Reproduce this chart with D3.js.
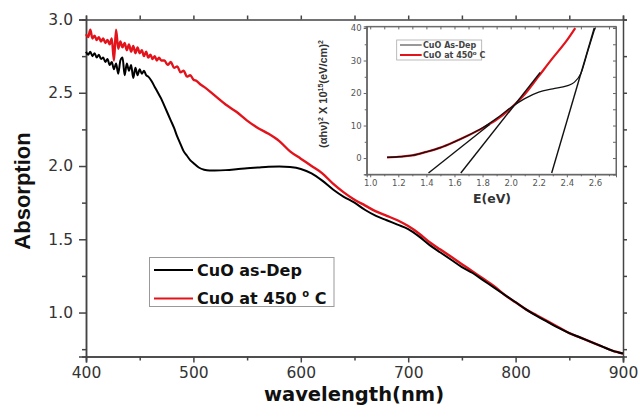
<!DOCTYPE html>
<html><head><meta charset="utf-8">
<script src="https://cdn.jsdelivr.net/npm/d3@7"></script>
<style>body{margin:0;background:#fff} svg{display:block}</style>
</head><body><svg id="c" width="642" height="406"></svg>
<script>
// ---------- main chart data ----------
const wlBlack = [400,402,404,406,408,410,412,414,416,418,420,422,424,426,428,430,432,434,436,438,440,442,444,446,448,450,452,454,456,458,
  461,464,467,470,473,476,479,482,485,488,491,494,497,500,505,510,515,520,530,540,550,560,570,580,590,600,610,620,630,640,650,660,670,680,690,700,
  710,720,730,740,750,760,770,780,790,800,810,820,830,840,850,860,870,880,890,900];
const absBlack = [2.78,2.76,2.78,2.75,2.77,2.74,2.76,2.73,2.74,2.71,2.73,2.69,2.71,2.66,2.70,2.63,2.72,2.74,2.62,2.70,2.65,2.69,2.60,2.67,2.62,2.66,2.63,2.65,2.62,2.61,
  2.58,2.54,2.50,2.46,2.41,2.36,2.31,2.26,2.20,2.15,2.10,2.07,2.04,2.02,1.99,1.975,1.97,1.97,1.972,1.978,1.985,1.99,1.995,1.997,1.993,1.98,1.95,1.90,1.84,1.79,1.75,1.70,1.66,1.63,1.60,1.57,
  1.52,1.46,1.41,1.36,1.31,1.27,1.22,1.17,1.12,1.07,1.02,0.975,0.935,0.895,0.86,0.83,0.80,0.77,0.74,0.72];
const wlRed = [400,402,404,406,408,410,412,414,416,418,420,422,424,426,428,430,432,434,436,438,440,442,444,446,448,450,452,454,456,458,460,462,464,466,468,470,
  473,476,479,482,485,488,491,494,497,500,503,506,510,520,530,540,550,560,570,580,590,600,610,620,630,640,650,660,670,680,690,700,
  710,720,730,740,750,760,770,780,790,800,810,820,830,840,850,860,870,880,890,900];
const absRed = [2.90,2.88,2.93,2.87,2.89,2.86,2.88,2.85,2.87,2.84,2.86,2.83,2.87,2.72,2.93,2.80,2.85,2.81,2.84,2.79,2.83,2.78,2.82,2.77,2.81,2.77,2.79,2.75,2.78,2.74,2.76,2.73,2.75,2.72,2.74,2.72,
  2.72,2.69,2.71,2.67,2.68,2.64,2.65,2.61,2.62,2.59,2.58,2.56,2.54,2.48,2.42,2.37,2.31,2.26,2.22,2.17,2.10,2.05,2.00,1.95,1.88,1.82,1.77,1.73,1.69,1.66,1.63,1.59,
  1.54,1.48,1.43,1.38,1.33,1.28,1.23,1.18,1.12,1.07,1.02,0.98,0.94,0.90,0.86,0.83,0.80,0.77,0.74,0.72];
const xTicks = [400,500,600,700,800,900];
const xMinor = [450,550,650,750,850];
const yTicks = [1.0,1.5,2.0,2.5,3.0];
const yMinor = [0.75,1.25,1.75,2.25,2.75];
const seriesNames = ["CuO as-Dep","CuO at 450 "];

// ---------- inset data ----------
const eRed = [1.12,1.2,1.3,1.4,1.5,1.6,1.7,1.8,1.9,2.0,2.1,2.2,2.3,2.4,2.46];
const tRed = [0.2,0.4,0.8,1.9,3.2,5.0,7.0,9.2,11.8,15.3,19.6,25.2,30.8,36.2,40];
const eBlack = [1.12,1.2,1.3,1.4,1.5,1.6,1.7,1.8,1.9,2.0,2.1,2.2,2.3,2.4,2.45,2.5,2.55,2.6];
const tBlack = [0.2,0.4,0.8,1.9,3.2,5.0,7.0,9.3,12.2,15.5,18.3,20.3,21.3,22.2,23.2,26.0,33.0,40.0];
const fitE = [[1.415,1.85],[1.645,2.21],[2.292,2.595]];
const fitT = [[-4.6,10.3],[-4.6,26.3],[-4.6,40]];
const ixTicks = [1.0,1.2,1.4,1.6,1.8,2.0,2.2,2.4,2.6];
const ixMinor = [1.1,1.3,1.5,1.7,1.9,2.1,2.3,2.5,2.7];
const iyTicks = [0,10,20,30,40];
const iyMinor = [-5,5,15,25,35];
const insetNames = ["CuO As-Dep","CuO at 450"];

const RED = "#e3131b", AX = "#444", TXT = "#333";
const svg = d3.select("#c");

const x = d3.scaleLinear([400,900],[86,623]);
const y = d3.scaleLinear([0.7,3.0],[356.5,19.5]);

function styleAxis(g, font, size, color, sw){
  g.select(".domain").attr("stroke",AX).attr("stroke-width",sw);
  g.selectAll(".tick line").attr("stroke",AX).attr("stroke-width",sw);
  g.selectAll(".tick text").attr("font-family",font).attr("font-size",size).attr("fill",color);
}
const F = "DejaVu Sans";
function addAxis(axis, tx, ty, font, size, color, sw){
  const g = svg.append("g").attr("transform",`translate(${tx},${ty})`).call(axis);
  styleAxis(g, font, size, color, sw);
  return g;
}
// main axes
addAxis(d3.axisBottom(x).tickValues(xMinor).tickSize(4).tickFormat(""),0,356.5,F,15.5,TXT,1.5);
addAxis(d3.axisBottom(x).tickValues(xTicks).tickSize(6).tickPadding(4.5).tickFormat(d3.format("d")),0,356.5,F,15.5,TXT,1.5);
addAxis(d3.axisLeft(y).tickValues(yMinor).tickSize(4).tickFormat(""),86,0,F,15.5,TXT,1.5);
addAxis(d3.axisLeft(y).tickValues(yTicks).tickSize(7).tickPadding(6).tickFormat(d3.format(".1f")),86,0,F,15.5,TXT,1.5);
addAxis(d3.axisTop(x).tickValues(xMinor.concat(xTicks)).tickSize(4).tickFormat(""),0,19.5,F,15.5,TXT,1.5);
addAxis(d3.axisRight(y).tickValues(yMinor.concat(yTicks)).tickSize(4).tickFormat(""),623,0,F,15.5,TXT,1.5);

// main curves
const lineMain = (xs, ys) => d3.line().x((d,i)=>x(xs[i])).y((d,i)=>y(ys[i])).curve(d3.curveMonotoneX)(xs);
svg.append("path").attr("d",lineMain(wlRed,absRed)).attr("fill","none").attr("stroke",RED).attr("stroke-width",2.4).attr("stroke-linejoin","round");
svg.append("path").attr("d",lineMain(wlBlack,absBlack)).attr("fill","none").attr("stroke","#000").attr("stroke-width",2).attr("stroke-linejoin","round");

// axis titles
svg.append("text").attr("x",354).attr("y",401).attr("text-anchor","middle")
  .attr("font-family","DejaVu Sans").attr("font-weight","bold").attr("font-size",19.5).attr("fill","#111").text("wavelength(nm)");
svg.append("text").attr("transform","translate(29.5,191) rotate(-90)").attr("text-anchor","middle")
  .attr("font-family","Liberation Sans").attr("font-weight","bold").attr("font-size",22).attr("fill","#111").text("Absorption");

// main legend
const lg = svg.append("g");
lg.append("rect").attr("x",149.5).attr("y",257.5).attr("width",184.5).attr("height",49).attr("fill","#fff").attr("stroke","#999").attr("stroke-width",1);
const lgCols = ["#000",RED];
seriesNames.forEach((n,i)=>{
  const yy = 270 + i*28.5;
  lg.append("line").attr("x1",154).attr("x2",193).attr("y1",yy).attr("y2",yy).attr("stroke",lgCols[i]).attr("stroke-width",2.2);
  const t = lg.append("text").attr("x",197).attr("y",yy+5.5).attr("font-family","DejaVu Sans").attr("font-weight","bold").attr("font-size",16).attr("fill","#111").text(n);
  if(i===1){ t.append("tspan").attr("font-size",10).attr("dy",-7).text("o"); t.append("tspan").attr("dy",7).text(" C"); }
});

// ---------- inset ----------
const xi = d3.scaleLinear([0.975,2.75],[366.7,616]);
const yi = d3.scaleLinear([-5,40.5],[174.3,26.4]);
svg.append("rect").attr("x",366.7).attr("y",26.4).attr("width",616-366.7).attr("height",174.3-26.4).attr("fill","#fff").attr("stroke","#666").attr("stroke-width",1);
const IF = "DejaVu Sans";
function addIAxis(axis, tx, ty){
  const g = svg.append("g").attr("transform",`translate(${tx},${ty})`).call(axis);
  g.select(".domain").attr("stroke","#666").attr("stroke-width",1);
  g.selectAll(".tick line").attr("stroke","#666").attr("stroke-width",1);
  g.selectAll(".tick text").attr("font-family",IF).attr("font-size",8.5).attr("fill","#555");
}
addIAxis(d3.axisBottom(xi).tickValues(ixMinor).tickSize(2).tickFormat(""),0,174.3);
addIAxis(d3.axisBottom(xi).tickValues(ixTicks).tickSize(3).tickPadding(3).tickFormat(d3.format(".1f")),0,174.3);
addIAxis(d3.axisLeft(yi).tickValues(iyMinor).tickSize(2).tickFormat(""),366.7,0);
addIAxis(d3.axisLeft(yi).tickValues(iyTicks).tickSize(3).tickPadding(2).tickFormat(d3.format("d")),366.7,0);
addIAxis(d3.axisBottom(xi).tickValues(ixMinor.concat(ixTicks)).tickSize(3).tickFormat(""),0,26.4);
addIAxis(d3.axisLeft(yi).tickValues(iyMinor.concat(iyTicks)).tickSize(3).tickFormat(""),616,0);

svg.append("clipPath").attr("id","ic").append("rect").attr("x",366.7).attr("y",26.4).attr("width",616-366.7).attr("height",174.3-26.4);
const ig = svg.append("g").attr("clip-path","url(#ic)");
const lineI = (xs, ys) => d3.line().x((d,i)=>xi(xs[i])).y((d,i)=>yi(ys[i])).curve(d3.curveMonotoneX)(xs);
ig.append("path").attr("d",lineI(eRed,tRed)).attr("fill","none").attr("stroke",RED).attr("stroke-width",2.2);
ig.append("path").attr("d",lineI(eBlack,tBlack)).attr("fill","none").attr("stroke","#111").attr("stroke-width",1.3);
fitE.forEach((e,i)=>{
  ig.append("line").attr("x1",xi(e[0])).attr("x2",xi(e[1])).attr("y1",yi(fitT[i][0])).attr("y2",yi(fitT[i][1]))
    .attr("stroke","#111").attr("stroke-width",1.4);
});

// inset legend
const il = svg.append("g");
il.append("rect").attr("x",396.7).attr("y",40).attr("width",85).attr("height",20).attr("fill","#fff").attr("stroke","#aaa").attr("stroke-width",0.8);
const ilCols = ["#333",RED], ilW = [1,2];
insetNames.forEach((n,i)=>{
  const yy = 45 + i*10;
  il.append("line").attr("x1",400).attr("x2",421.7).attr("y1",yy).attr("y2",yy).attr("stroke",ilCols[i]).attr("stroke-width",ilW[i]);
  const t = il.append("text").attr("x",423).attr("y",yy+3).attr("font-family",IF).attr("font-weight","bold").attr("font-size",8).attr("fill","#444").text(n);
  if(i===1){ t.append("tspan").attr("font-size",5.5).attr("dy",-3.5).text("o"); t.append("tspan").attr("dy",3.5).text(" C"); }
});

// inset axis titles
svg.append("text").attr("x",492).attr("y",203).attr("text-anchor","middle")
  .attr("font-family","DejaVu Sans").attr("font-weight","bold").attr("font-size",12.5).attr("fill","#333").text("E(eV)");
const yl = svg.append("text").attr("transform","translate(327,94) rotate(-90)").attr("text-anchor","middle")
  .attr("font-family","Liberation Sans").attr("font-weight","bold").attr("font-size",11).attr("fill","#333");
yl.append("tspan").text("(\u03b1h\u03bd)");
yl.append("tspan").attr("font-size",7).attr("dy",-4).text("2");
yl.append("tspan").attr("dy",4).text(" X 10");
yl.append("tspan").attr("font-size",7).attr("dy",-4).text("15");
yl.append("tspan").attr("dy",4).text("(eV/cm)");
yl.append("tspan").attr("font-size",7).attr("dy",-4).text("2");
</script></body></html>
